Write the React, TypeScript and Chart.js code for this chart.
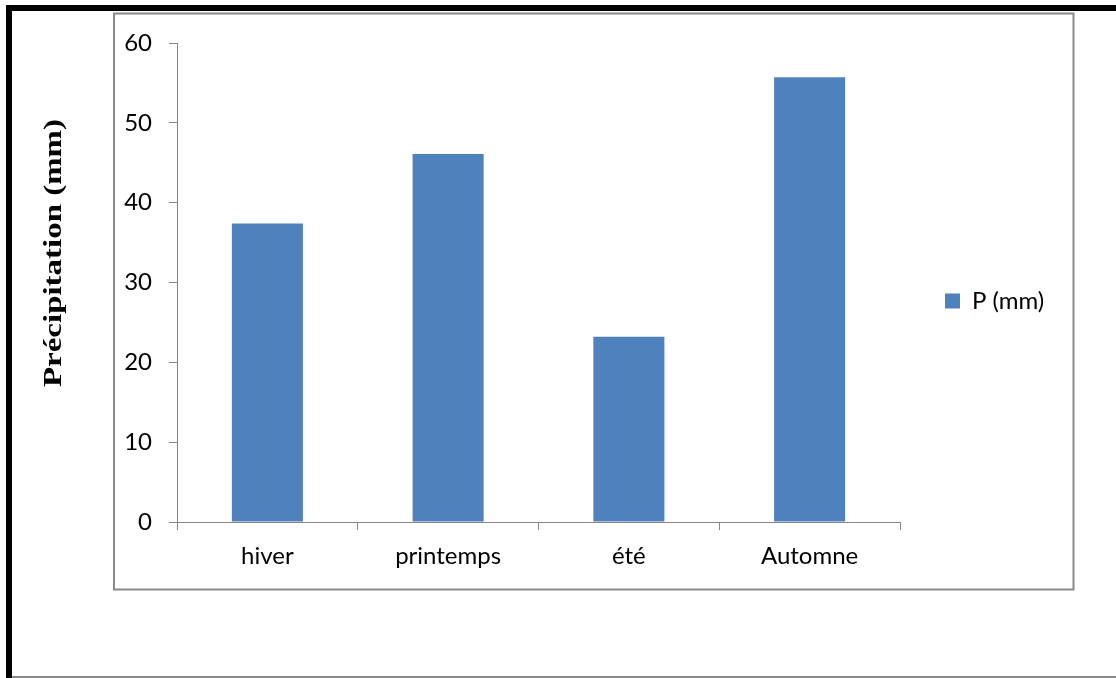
import React, { useEffect, useRef } from "react";
import { Chart, registerables } from "chart.js";

Chart.register(...registerables);

// Seasonal rainfall
const seasons = ["hiver", "printemps", "été", "Automne"];
const precipitation = [37.4, 46.1, 23.2, 55.7];
const seriesLabel = "P (mm)";
const axisTitle = "Précipitation (mm)";
const yMin = 0;
const yMax = 60;
const yStep = 10;

const W = 1116;
const H = 678;
const BAR_COLOR = "#4F81BD";
const AXIS_COLOR = "#868686";
const FONT_FAMILY = "Lato, 'Open Sans', sans-serif";
const FONT_SIZE = 24;

// Layout: padding, an empty top spacer, x-axis band and legend column
const PLOT_LEFT = 177;
const PLOT_RIGHT = 900;
const PAD_TOP = 20;
const TOP_SPACER = 23;
const PAD_BOTTOM = 96;
const X_AXIS_H = 60;
const LEGEND_PAD = 45;
const LEGEND_BOX = 15;

// Outer page frame, chart box and the rotated axis title
const framePlugin = {
  id: "frame",
  beforeDraw(chart: any) {
    const ctx = chart.ctx as CanvasRenderingContext2D;
    ctx.save();
    ctx.fillStyle = "#ffffff";
    ctx.fillRect(0, 0, W, H);
    // thick black page border (left + top)
    ctx.fillStyle = "#000000";
    ctx.fillRect(6, 5, 6, H - 5);
    ctx.fillRect(6, 5, W - 6, 6);
    // thin grey line along the bottom
    ctx.fillStyle = "#8a8a8a";
    ctx.fillRect(12, 676, W - 12, 2);
    // chart box
    ctx.strokeStyle = "#898989";
    ctx.lineWidth = 2;
    ctx.strokeRect(114, 13.5, 959.5, 576);
    ctx.restore();
  },
  afterDraw(chart: any) {
    const ctx = chart.ctx as CanvasRenderingContext2D;
    ctx.save();
    ctx.translate(61, 253);
    ctx.rotate(-Math.PI / 2);
    ctx.font = "bold 26px 'Liberation Serif', 'Times New Roman', serif";
    ctx.fillStyle = "#000000";
    ctx.textAlign = "center";
    ctx.textBaseline = "alphabetic";
    const w = ctx.measureText(axisTitle).width;
    ctx.scale(268 / w, 1);
    ctx.fillText(axisTitle, 0, 0);
    ctx.restore();
  },
};

export default function App() {
  const canvasRef = useRef<HTMLCanvasElement | null>(null);

  useEffect(() => {
    const canvas = canvasRef.current;
    if (!canvas) return;

    // legend width = padding + box + gap + text + 10 (Chart.js legend fit)
    const mctx = document.createElement("canvas").getContext("2d")!;
    mctx.font = `${FONT_SIZE}px ${FONT_FAMILY}`;
    const textW = mctx.measureText(seriesLabel).width;
    const legendW = LEGEND_PAD + LEGEND_BOX + FONT_SIZE / 2 + textW + 10;
    const padRight = Math.max(0, W - PLOT_RIGHT - legendW);

    const chart = new Chart(canvas, {
      type: "bar",
      data: {
        labels: seasons,
        datasets: [
          {
            label: seriesLabel,
            data: precipitation,
            backgroundColor: BAR_COLOR,
            borderWidth: 0,
            categoryPercentage: 1,
            barPercentage: 0.393,
          },
        ],
      },
      options: {
        responsive: false,
        animation: false,
        devicePixelRatio: 1,
        layout: {
          padding: { left: 0, top: PAD_TOP, right: padRight, bottom: PAD_BOTTOM },
        },
        plugins: {
          title: {
            display: true,
            text: "",
            padding: 0,
            font: { size: TOP_SPACER, lineHeight: 1 },
          },
          legend: {
            display: true,
            position: "right",
            labels: {
              boxWidth: LEGEND_BOX,
              boxHeight: LEGEND_BOX,
              padding: LEGEND_PAD,
              color: "#000000",
              font: { family: FONT_FAMILY, size: FONT_SIZE },
            },
          },
          tooltip: { enabled: false },
        },
        scales: {
          x: {
            offset: true,
            grid: {
              display: true,
              offset: true,
              drawOnChartArea: false,
              drawTicks: true,
              tickLength: 8,
              color: AXIS_COLOR,
            },
            border: { display: true, color: AXIS_COLOR, width: 1 },
            ticks: {
              color: "#000000",
              padding: 12,
              maxRotation: 0,
              font: { family: FONT_FAMILY, size: FONT_SIZE },
            },
            afterFit(scale: any) {
              scale.height = X_AXIS_H;
            },
          },
          y: {
            min: yMin,
            max: yMax,
            grid: {
              display: true,
              drawOnChartArea: false,
              drawTicks: true,
              tickLength: 8,
              color: AXIS_COLOR,
            },
            border: { display: true, color: AXIS_COLOR, width: 1 },
            ticks: {
              stepSize: yStep,
              color: "#000000",
              padding: 17,
              font: { family: FONT_FAMILY, size: FONT_SIZE },
            },
            afterFit(scale: any) {
              scale.width = PLOT_LEFT;
            },
          },
        },
      },
      plugins: [framePlugin],
    });

    return () => chart.destroy();
  }, []);

  return (
    <div style={{ position: "fixed", left: 0, top: 0, width: W, height: H, background: "#fff" }}>
      <canvas ref={canvasRef} width={W} height={H} style={{ display: "block", width: W, height: H }} />
    </div>
  );
}
